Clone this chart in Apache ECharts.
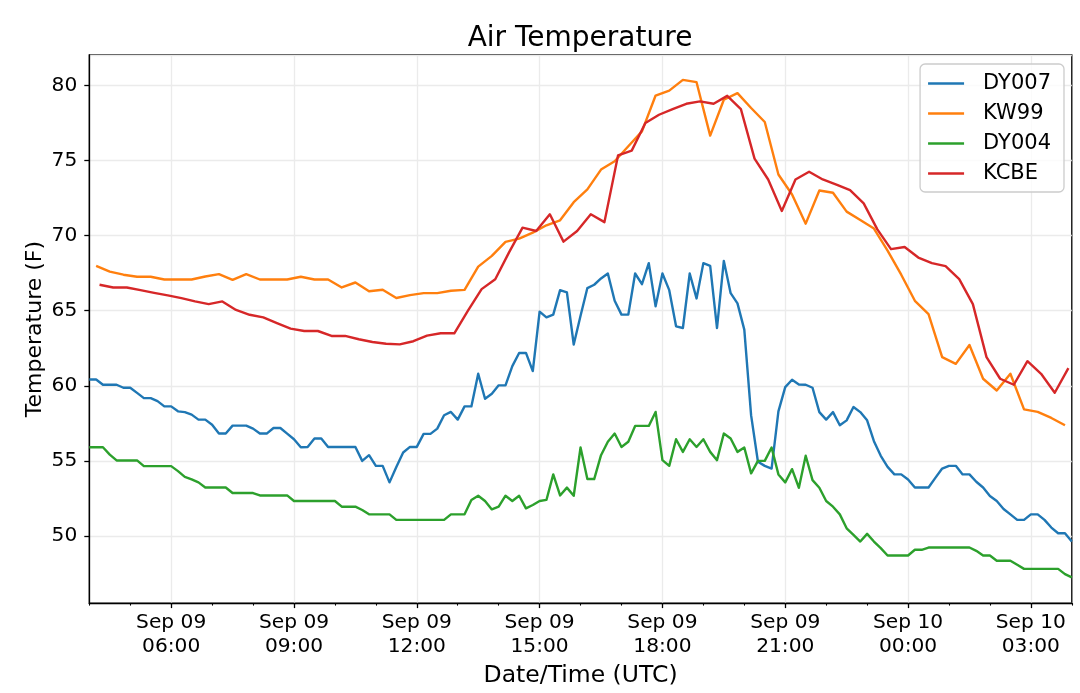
<!DOCTYPE html>
<html>
<head>
<meta charset="utf-8">
<script src="https://cdn.jsdelivr.net/npm/echarts@6/dist/echarts.min.js"></script>
<style>
html,body{margin:0;padding:0;background:#fff;}
#chart{width:1080px;height:693px;}
</style>
</head>
<body>
<div id="chart"></div>
<script>
// ---- data ----
const titleText = 'Air Temperature';
const xAxisName = 'Date/Time (UTC)';
const yAxisName = 'Temperature (F)';
const seriesNames = ['DY007', 'KW99', 'DY004', 'KCBE'];
const seriesColors = ['#1f77b4', '#ff7f0e', '#2ca02c', '#d62728'];
const axisStart = '2019-09-09T04:00:00Z';
const axisHours = 24;          // x range: Sep 09 04:00 -> Sep 10 04:00 (UTC)
const majorEveryHours = 3;     // labelled ticks at 06:00, 09:00, ...
const monthNames = ['Jan','Feb','Mar','Apr','May','Jun','Jul','Aug','Sep','Oct','Nov','Dec'];

// DY stations: every 10 minutes from 04:00
const dyStart = '2019-09-09T04:00:00Z';
const dyStepMin = 10;
const dy007 = [
  60.42, 60.42, 60.07, 60.07, 60.07, 59.87, 59.87, 59.53, 59.18, 59.18,
  58.98, 58.63, 58.63, 58.30, 58.25, 58.08, 57.75, 57.75, 57.41, 56.82,
  56.82, 57.35, 57.35, 57.35, 57.15, 56.82, 56.82, 57.19, 57.19, 56.82,
  56.44, 55.91, 55.93, 56.49, 56.49, 55.93, 55.93, 55.93, 55.93, 55.93,
  55.00, 55.38, 54.67, 54.67, 53.57, 54.60, 55.56, 55.93, 55.93, 56.80,
  56.80, 57.15, 58.04, 58.26, 57.75, 58.63, 58.63, 60.80, 59.14, 59.47,
  60.03, 60.03, 61.31, 62.19, 62.19, 60.98, 64.94, 64.56, 64.74, 66.37,
  66.22, 62.75, 64.67, 66.51, 66.73, 67.15, 67.48, 65.67, 64.74, 64.74,
  67.48, 66.77, 68.17, 65.29, 67.48, 66.37, 63.96, 63.85, 67.48, 65.82,
  68.17, 67.99, 63.85, 68.32, 66.17, 65.49, 63.74, 58.03, 54.94, 54.67,
  54.49, 58.30, 59.91, 60.40, 60.09, 60.07, 59.87, 58.25, 57.75, 58.25,
  57.37, 57.70, 58.59, 58.25, 57.70, 56.31, 55.34, 54.60, 54.10, 54.10,
  53.76, 53.23, 53.23, 53.23, 53.87, 54.49, 54.67, 54.67, 54.10, 54.10,
  53.61, 53.23, 52.66, 52.33, 51.80, 51.44, 51.07, 51.07, 51.44, 51.44,
  51.07, 50.56, 50.18, 50.18, 49.63
];
const dy004 = [
  55.91, 55.91, 55.91, 55.42, 55.03, 55.03, 55.03, 55.03, 54.65, 54.65,
  54.65, 54.65, 54.65, 54.32, 53.94, 53.77, 53.57, 53.23, 53.23, 53.23,
  53.23, 52.86, 52.86, 52.86, 52.86, 52.70, 52.70, 52.70, 52.70, 52.70,
  52.33, 52.33, 52.33, 52.33, 52.33, 52.33, 52.33, 51.95, 51.95, 51.95,
  51.73, 51.44, 51.44, 51.44, 51.44, 51.07, 51.07, 51.07, 51.07, 51.07,
  51.07, 51.07, 51.07, 51.44, 51.44, 51.44, 52.40, 52.68, 52.33, 51.77,
  51.95, 52.68, 52.33, 52.68, 51.84, 52.06, 52.33, 52.40, 54.10, 52.70,
  53.22, 52.68, 55.89, 53.79, 53.79, 55.38, 56.27, 56.82, 55.93, 56.27,
  57.33, 57.33, 57.33, 58.26, 55.05, 54.67, 56.44, 55.60, 56.44, 55.93,
  56.44, 55.60, 55.05, 56.82, 56.49, 55.60, 55.89, 54.17, 55.00, 55.00,
  55.89, 54.10, 53.57, 54.45, 53.21, 55.34, 53.72, 53.21, 52.33, 51.95,
  51.44, 50.51, 50.07, 49.63, 50.14, 49.63, 49.19, 48.70, 48.70, 48.70,
  48.70, 49.08, 49.08, 49.23, 49.23, 49.23, 49.23, 49.23, 49.23, 49.23,
  49.01, 48.70, 48.70, 48.35, 48.35, 48.35, 48.08, 47.81, 47.81, 47.81,
  47.81, 47.81, 47.81, 47.46, 47.24
];

// KW99: every 20 minutes from 04:10
const kw99Start = '2019-09-09T04:10:00Z';
const kw99StepMin = 20;
const kw99 = [
  67.99, 67.60, 67.40, 67.26, 67.26, 67.08, 67.08, 67.08, 67.28, 67.44,
  67.06, 67.44, 67.08, 67.08, 67.08, 67.26, 67.08, 67.08, 66.55, 66.88,
  66.30, 66.40, 65.85, 66.04, 66.17, 66.17, 66.33, 66.39, 67.94, 68.65,
  69.58, 69.80, 70.20, 70.69, 71.02, 72.23, 73.08, 74.40, 74.95, 75.95,
  76.94, 79.33, 79.66, 80.37, 80.22, 76.66, 79.05, 79.49, 78.50, 77.57,
  74.07, 72.74, 70.80, 73.01, 72.86, 71.60, 71.04, 70.47, 69.00, 67.40,
  65.66, 64.78, 61.91, 61.46, 62.72, 60.47, 59.69, 60.80, 58.43, 58.26,
  57.86, 57.37
];

// KCBE: every 20 minutes from 04:15
const kcbeStart = '2019-09-09T04:15:00Z';
const kcbeStepMin = 20;
const kcbe = [
  66.73, 66.55, 66.55, 66.37, 66.19, 66.02, 65.84, 65.62, 65.44, 65.62,
  65.05, 64.73, 64.56, 64.18, 63.81, 63.65, 63.65, 63.32, 63.32, 63.10,
  62.92, 62.80, 62.76, 62.97, 63.34, 63.50, 63.50, 65.00, 66.44, 67.10,
  68.87, 70.53, 70.31, 71.42, 69.60, 70.31, 71.42, 70.90, 75.35, 75.66,
  77.50, 78.05, 78.43, 78.78, 78.94, 78.78, 79.31, 78.43, 75.13, 73.74,
  71.64, 73.74, 74.25, 73.74, 73.40, 73.03, 72.15, 70.42, 69.10, 69.24,
  68.54, 68.17, 67.97, 67.10, 65.44, 61.91, 60.47, 60.07, 61.64, 60.80,
  59.54, 61.18
];

const yMin = 45.53;
const yMax = 82.03;

// ---- build ----
function toPairs(startIso, stepMin, values) {
  const t0 = Date.parse(startIso);
  return values.map((v, i) => [t0 + i * stepMin * 60000, v]);
}
const seriesData = [
  toPairs(dyStart, dyStepMin, dy007),
  toPairs(kw99Start, kw99StepMin, kw99),
  toPairs(dyStart, dyStepMin, dy004),
  toPairs(kcbeStart, kcbeStepMin, kcbe)
];
const tMin = Date.parse(axisStart);
const tMax = tMin + axisHours * 3600000;
const hourCats = [];
for (let i = 0; i <= axisHours; i++) hourCats.push(String(tMin + i * 3600000));
const pad2 = n => (n < 10 ? '0' : '') + n;
const isMajor = (idx, val) => new Date(Number(val !== undefined ? val : hourCats[idx])).getUTCHours() % majorEveryHours === 0;
const fmtTick = val => {
  const d = new Date(Number(val));
  return monthNames[d.getUTCMonth()] + ' ' + pad2(d.getUTCDate()) + '\n' +
         pad2(d.getUTCHours()) + ':' + pad2(d.getUTCMinutes());
};
const FONT = 'DejaVu Sans';

const chart = echarts.init(document.getElementById('chart'), null, {renderer: 'canvas'});
chart.setOption({
  animation: false,
  backgroundColor: '#ffffff',
  textStyle: {fontFamily: FONT},
  title: {
    text: titleText,
    left: 580,
    top: 25,
    textAlign: 'center',
    padding: 0,
    textStyle: {fontFamily: FONT, fontSize: 28, fontWeight: 'normal', color: '#000'}
  },
  legend: {
    data: seriesNames,
    orient: 'vertical',
    right: 16,
    top: 64,
    icon: 'rect',
    itemWidth: 36,
    itemHeight: 2.5,
    itemGap: 9,
    padding: [9, 13, 8, 8],
    borderColor: '#cccccc',
    borderWidth: 1.3,
    borderRadius: 5,
    backgroundColor: 'rgba(255,255,255,0.8)',
    textStyle: {fontFamily: FONT, fontSize: 21, color: '#000', padding: [0, 0, 0, 14]}
  },
  grid: {
    left: 89.3,
    right: 8.2,
    top: 55,
    bottom: 88.3,
    show: true,
    borderColor: '#000',
    borderWidth: 1.3,
    backgroundColor: 'transparent'
  },
  xAxis: [
    {
      // data axis (hidden): real time in ms
      type: 'value',
      min: tMin,
      max: tMax,
      show: false
    },
    {
      // major hourly category axis: labels, ticks, grid every 3 hours
      type: 'category',
      position: 'bottom',
      data: hourCats,
      boundaryGap: false,
      name: xAxisName,
      nameLocation: 'middle',
      nameGap: 52,
      nameTextStyle: {fontFamily: FONT, fontSize: 23.5, color: '#000'},
      axisLine: {show: true, lineStyle: {color: '#000', width: 1.3}},
      axisTick: {show: true, interval: isMajor, length: 5, lineStyle: {color: '#000', width: 1.3}},
      axisLabel: {
        interval: isMajor,
        margin: 8,
        fontFamily: FONT,
        fontSize: 20.2,
        lineHeight: 24,
        color: '#000',
        formatter: fmtTick
      },
      splitLine: {show: true, interval: isMajor, lineStyle: {color: '#ebebeb', width: 1.3}}
    },
    {
      // minor hourly ticks
      type: 'category',
      position: 'bottom',
      data: hourCats,
      boundaryGap: false,
      axisLine: {show: false},
      axisTick: {show: true, interval: 0, length: 2.5, lineStyle: {color: '#000', width: 1.1}},
      axisLabel: {show: false},
      splitLine: {show: false}
    }
  ],
  yAxis: {
    type: 'value',
    min: yMin,
    max: yMax,
    splitNumber: 7,
    name: yAxisName,
    nameLocation: 'middle',
    nameGap: 43,
    nameMoveOverlap: false,
    nameTextStyle: {fontFamily: FONT, fontSize: 22, color: '#000'},
    axisLine: {show: true, lineStyle: {color: '#000', width: 1.3}},
    axisTick: {show: true, length: 5, lineStyle: {color: '#000', width: 1.3}},
    axisLabel: {
      showMinLabel: false,
      showMaxLabel: false,
      margin: 12,
      fontFamily: FONT,
      fontSize: 20.2,
      color: '#000'
    },
    splitLine: {show: true, lineStyle: {color: '#ebebeb', width: 1.3}}
  },
  series: seriesNames.map((name, i) => ({
    name: name,
    type: 'line',
    xAxisIndex: 0,
    yAxisIndex: 0,
    data: seriesData[i],
    showSymbol: false,
    symbol: 'none',
    color: seriesColors[i],
    lineStyle: {color: seriesColors[i], width: 2.4, join: 'round'},
    emphasis: {disabled: true}
  }))
});
</script>
</body>
</html>
